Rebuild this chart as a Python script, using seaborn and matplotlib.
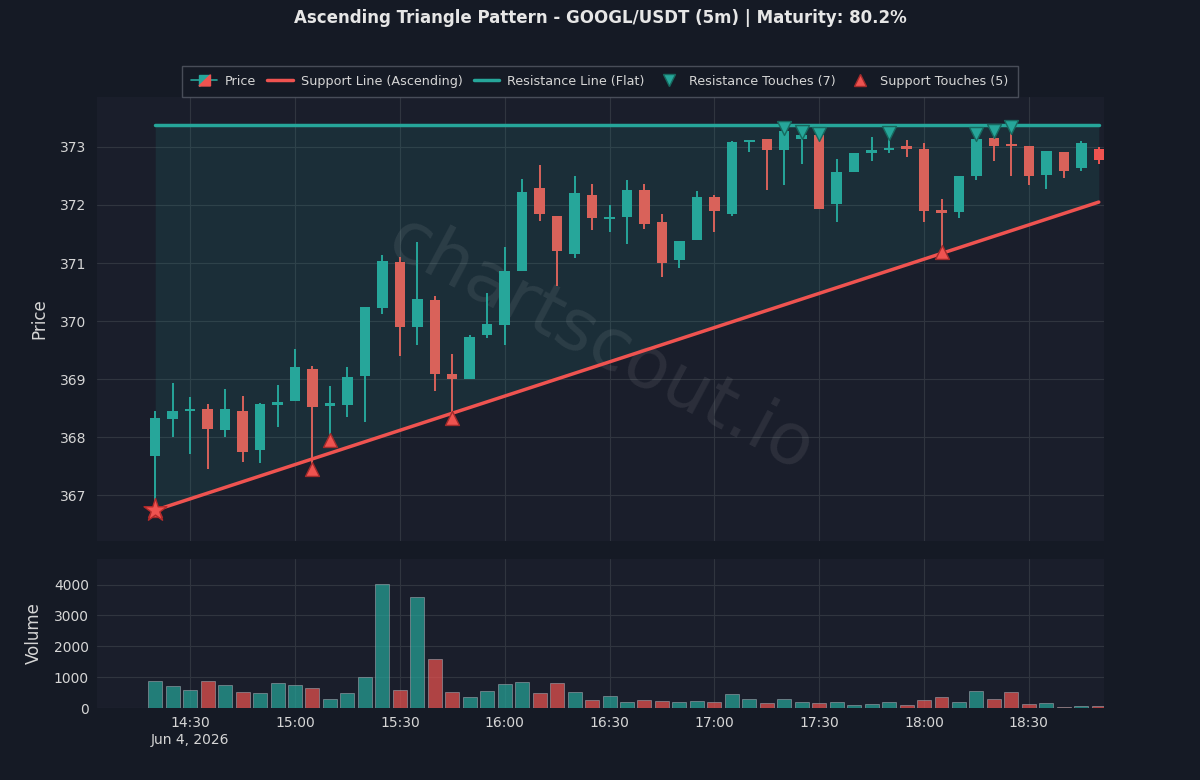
import numpy as np
import pandas as pd
import matplotlib
matplotlib.use("Agg")
import matplotlib.pyplot as plt
import matplotlib.dates as mdates
from matplotlib.legend_handler import HandlerBase
from matplotlib.patches import Polygon
from matplotlib.lines import Line2D
import seaborn as sns

# свечи 5m, GOOGL/USDT, 4 июня 2026
start_time = "2026-06-04 14:20"
opens = [367.68, 368.32, 368.45, 368.48, 368.12, 368.45, 367.78, 368.55, 368.63, 369.18,
         368.54, 368.56, 369.06, 370.22, 371.01, 369.90, 370.37, 369.09, 369.00, 369.76,
         369.94, 370.86, 372.30, 371.81, 371.16, 372.18, 371.75, 371.80, 372.26, 371.71,
         371.05, 371.39, 372.13, 371.84, 373.08, 373.13, 372.94, 373.14, 373.20, 372.02,
         372.56, 372.89, 372.95, 372.99, 372.97, 371.91, 371.88, 372.50, 373.15, 373.03,
         373.02, 372.51, 372.91, 372.63, 372.96]
highs = [368.45, 368.94, 368.69, 368.57, 368.83, 368.70, 368.59, 368.90, 369.51, 369.22,
         368.88, 369.20, 370.24, 371.14, 371.11, 371.37, 370.44, 369.44, 369.76, 370.48,
         371.27, 372.44, 372.69, 371.81, 372.50, 372.37, 372.00, 372.43, 372.37, 371.84,
         371.38, 372.24, 372.17, 373.10, 373.11, 373.13, 373.33, 373.25, 373.22, 372.79,
         372.90, 373.17, 373.24, 373.12, 373.07, 372.10, 372.50, 373.22, 373.28, 373.35,
         373.02, 372.93, 372.91, 373.10, 373.00]
lows = [366.74, 368.00, 367.71, 367.45, 368.00, 367.57, 367.56, 368.18, 368.62, 367.45,
        367.95, 368.34, 368.26, 370.13, 369.40, 369.59, 368.80, 368.33, 369.00, 369.70,
        369.59, 370.86, 371.72, 370.60, 371.08, 371.57, 371.54, 371.33, 371.58, 370.76,
        370.91, 371.39, 371.54, 371.81, 372.92, 372.25, 372.34, 372.70, 371.93, 371.71,
        372.56, 372.75, 372.90, 372.83, 371.71, 371.19, 371.77, 372.43, 372.76, 372.50,
        372.34, 372.28, 372.47, 372.59, 372.71]
closes = [368.33, 368.45, 368.48, 368.14, 368.48, 367.74, 368.57, 368.61, 369.20, 368.52,
          368.56, 369.03, 370.24, 371.03, 369.90, 370.38, 369.09, 369.00, 369.73, 369.95,
          370.87, 372.23, 371.85, 371.20, 372.21, 371.77, 371.77, 372.26, 371.68, 371.00,
          371.38, 372.13, 371.90, 373.09, 373.11, 372.94, 373.27, 373.20, 371.93, 372.56,
          372.90, 372.94, 372.99, 372.97, 371.90, 371.86, 372.50, 373.14, 373.02, 373.01,
          372.50, 372.93, 372.59, 373.06, 372.78]
volumes = [878, 705, 596, 889, 748, 520, 488, 802, 759, 661,
           304, 499, 1008, 4022, 585, 3610, 1572, 531, 347, 542,
           791, 856, 488, 824, 520, 271, 390, 206, 271, 217,
           195, 228, 184, 455, 293, 163, 282, 184, 173, 195,
           87, 119, 184, 87, 249, 347, 195, 553, 293, 531,
           119, 152, 33, 76, 54]

resistance_level = 373.37
support_start = 366.74
support_end = 372.05
resistance_idx = [36, 37, 38, 42, 47, 48, 49]
support_idx = [0, 9, 10, 17, 45]
maturity = 80.2

UP = "#26a69a"
DOWN = "#ef5350"
DOWN_BODY = "#d9625a"
BG = "#151a25"
AX_BG = "#1a1e2b"
TXT = "#d6d6d6"

sns.set_theme(style="darkgrid", rc={
    "figure.facecolor": BG,
    "axes.facecolor": AX_BG,
    "axes.edgecolor": AX_BG,
    "grid.color": "#30353f",
    "grid.linewidth": 0.8,
    "text.color": TXT,
    "axes.labelcolor": TXT,
    "xtick.color": TXT,
    "ytick.color": TXT,
})
plt.rcParams['font.family'] = ['DejaVu Sans']

times = pd.date_range(start_time, periods=len(closes), freq="5min")
x = mdates.date2num(times)
step = 5 / (24 * 60)

df = pd.DataFrame({"x": x, "open": opens, "high": highs, "low": lows,
                   "close": closes, "volume": volumes})
df["up"] = df["close"] >= df["open"]

fig = plt.figure(figsize=(12, 7.8), dpi=100)
ax = fig.add_axes([0.081, 0.3064, 0.839, 0.5692])
axv = fig.add_axes([0.081, 0.0923, 0.839, 0.191], sharex=ax)

# зона треугольника
sup_x = [x[0], x[-1]]
sup_y = [support_start, support_end]
ax.fill_between(sup_x, sup_y, [resistance_level, resistance_level], color=UP, alpha=0.12, lw=0, zorder=1)

# свечи
colors = [UP if u else DOWN_BODY for u in df["up"]]
colors[-1] = UP if df["up"].iloc[-1] else DOWN
ax.vlines(df["x"], df["low"], df["high"], colors=colors, lw=1.4, zorder=3)
body_bottom = np.minimum(df["open"], df["close"])
body_h = np.maximum(np.abs(df["close"] - df["open"]), 0.04)
ax.bar(df["x"], body_h, bottom=body_bottom, width=step * 0.6, color=colors, lw=0, zorder=4)

# линии паттерна
sns.lineplot(x=sup_x, y=[resistance_level, resistance_level], ax=ax, color=UP, lw=2.5, zorder=5)
sns.lineplot(x=sup_x, y=sup_y, ax=ax, color=DOWN, lw=2.5, zorder=5)

ax.scatter(df["x"].iloc[resistance_idx], df["high"].iloc[resistance_idx], marker="v", s=100,
           color=UP, edgecolor="#17695f", lw=1, zorder=6)
ax.scatter(df["x"].iloc[support_idx], df["low"].iloc[support_idx], marker="^", s=100,
           color=DOWN, edgecolor="#a32b2b", lw=1, zorder=6)
ax.scatter([df["x"].iloc[0]], [df["low"].iloc[0]], marker="*", s=300,
           color=DOWN, edgecolor="#b52a2a", lw=1, zorder=7)

ax.text(0.5, 0.44, "chartscout.io", transform=ax.transAxes, rotation=-28, fontsize=52,
        color="white", alpha=0.08, ha="center", va="center", zorder=2)

ax.set_ylim(366.21, 373.86)
ax.set_xlim(x[0] - 3.32 * step, x[0] + 54.3 * step)
ax.set_yticks([367, 368, 369, 370, 371, 372, 373])
ax.set_ylabel("Price", fontsize=12, labelpad=8)
ax.tick_params(axis="x", labelbottom=False, length=0)
ax.tick_params(axis="y", labelsize=10, length=0, pad=8)

# объём
vcolors = [UP if u else DOWN for u in df["up"]]
axv.bar(df["x"], df["volume"], width=step * 0.8, color=vcolors, alpha=0.7,
        edgecolor="#9aa0a8", lw=0.6, zorder=3)
axv.set_ylim(0, max(volumes) * 1.2)
axv.set_yticks([0, 1000, 2000, 3000, 4000])
axv.set_ylabel("Volume", fontsize=12, labelpad=8)
axv.tick_params(axis="both", labelsize=10, length=0, pad=6)

ticks = pd.date_range("2026-06-04 14:30", "2026-06-04 18:30", freq="30min")
axv.set_xticks(mdates.date2num(ticks))
labels = [t.strftime("%H:%M") for t in ticks]
labels[0] = labels[0] + "\nJun 4, 2026"
axv.set_xticklabels(labels)
for a in (ax, axv):
    for s in a.spines.values():
        s.set_visible(False)


class CandleHandler(HandlerBase):
    def create_artists(self, legend, orig_handle, xdescent, ydescent, width, height, fontsize, trans):
        w0, w1 = width * 0.3, width * 0.75
        h0, h1 = -height * 0.15, height * 1.1
        ln = Line2D([0, width], [height / 2, height / 2], color=UP, lw=1.2, transform=trans)
        up = Polygon([[w0, h0], [w0, h1], [w1, h1]], closed=True, color=UP, transform=trans)
        dn = Polygon([[w0, h0], [w1, h1], [w1, h0]], closed=True, color=DOWN, transform=trans)
        return [ln, up, dn]


price_handle = Line2D([], [], color=UP)
handles = [
    price_handle,
    Line2D([], [], color=DOWN, lw=2.5),
    Line2D([], [], color=UP, lw=2.5),
    Line2D([], [], marker="v", color=UP, markeredgecolor="#17695f", ls="", markersize=9),
    Line2D([], [], marker="^", color=DOWN, markeredgecolor="#a32b2b", ls="", markersize=9),
]
names = ["Price", "Support Line (Ascending)", "Resistance Line (Flat)",
         f"Resistance Touches ({len(resistance_idx)})", f"Support Touches ({len(support_idx)})"]
leg = fig.legend(handles, names, loc="center", bbox_to_anchor=(0.5, 0.896), ncol=5,
                 fontsize=9.2, frameon=True, facecolor=BG, edgecolor="#555a66",
                 handler_map={price_handle: CandleHandler()}, columnspacing=0.9,
                 handletextpad=0.6, borderpad=0.7, fancybox=False)
leg.get_frame().set_linewidth(1.0)
for t in leg.get_texts():
    t.set_color(TXT)

fig.suptitle(f"Ascending Triangle Pattern - GOOGL/USDT (5m) | Maturity: {maturity}%",
             y=0.988, fontsize=12, fontweight="bold", color="#e6e6e6")

fig.savefig("out.png", dpi=100, facecolor=BG)
